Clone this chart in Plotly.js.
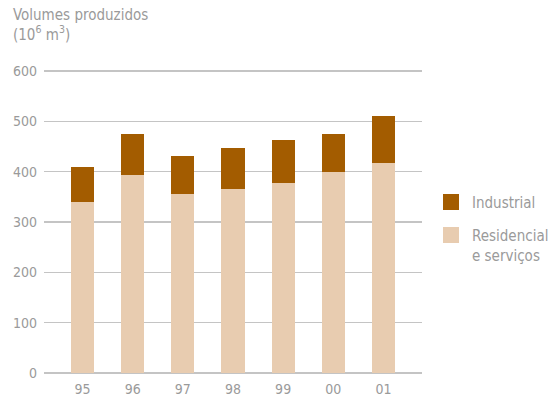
<!DOCTYPE html>
<html>
<head>
<meta charset="utf-8">
<script src="https://cdn.plot.ly/plotly-3.0.1.min.js"></script>
<style>html,body{margin:0;padding:0;background:#fff;}#chart{width:552px;height:396px;}</style>
</head>
<body>
<div id="chart"></div>
<script>
const years = ["95", "96", "97", "98", "99", "00", "01"];
const residencial = [339, 393, 355, 365, 377, 399, 418];
const industrial = [70, 81, 76, 82, 86, 75, 92];
const yTicks = [0, 100, 200, 300, 400, 500, 600];
const seriesNames = ["Industrial", "Residencial<br>e serviços"];
const seriesColors = ["#A35C00", "#E8CCB0"];

const FONT = "'DejaVu Sans Condensed', 'Liberation Sans Narrow', Roboto, sans-serif";
const GREY = "#9a9a9a";

const traces = [
  {type: "bar", name: seriesNames[1], x: years, y: residencial,
   marker: {color: seriesColors[1]}, width: 0.46, hoverinfo: "skip"},
  {type: "bar", name: seriesNames[0], x: years, y: industrial,
   marker: {color: seriesColors[0]}, width: 0.46, hoverinfo: "skip"}
];

// plot area in pixels
const L = 44, R = 422, T = 69, B = 375;
const W = R - L, H = B - T;
const px = x => (x - L) / W;
const py = y => (B - y) / H;

const shapes = [], annotations = [];
// manual legend
const legY = [194, 227];
seriesNames.forEach((n, i) => {
  shapes.push({type: "rect", xref: "paper", yref: "paper",
    x0: px(443), x1: px(459), y0: py(legY[i] + 16), y1: py(legY[i]),
    fillcolor: seriesColors[i], line: {width: 0}});
  annotations.push({xref: "paper", yref: "paper", x: px(470), y: py(legY[i] - 2),
    xanchor: "left", yanchor: "top", align: "left", showarrow: false, text: n,
    font: {size: 15, color: GREY, family: FONT}});
});
// title
annotations.push({xref: "paper", yref: "paper", x: px(11), y: py(4), xanchor: "left", yanchor: "top",
  align: "left", showarrow: false,
  text: "Volumes produzidos<br>(10<sup>6</sup> m<sup>3</sup>)",
  font: {size: 15, color: GREY, family: FONT}});

const layout = {
  width: 552, height: 396,
  margin: {l: L, r: 552 - R, t: T, b: 396 - B, autoexpand: false},
  barmode: "stack",
  paper_bgcolor: "#fff", plot_bgcolor: "#fff",
  font: {family: FONT, color: GREY, size: 14},
  xaxis: {type: "category", range: [-0.77, 6.77], showgrid: false, zeroline: false,
          showline: false, ticks: "", ticklabelstandoff: 4, tickfont: {size: 14, color: GREY}},
  yaxis: {range: [-4, 604], tickvals: yTicks, showgrid: true, gridcolor: "#c4c4c4", gridwidth: 1.2,
          zeroline: false, showline: false, ticks: "", ticklabelstandoff: 6,
          tickfont: {size: 14, color: GREY}},
  showlegend: false,
  shapes: shapes,
  annotations: annotations
};

Plotly.newPlot("chart", traces, layout, {staticPlot: true, displayModeBar: false});
</script>
</body>
</html>
